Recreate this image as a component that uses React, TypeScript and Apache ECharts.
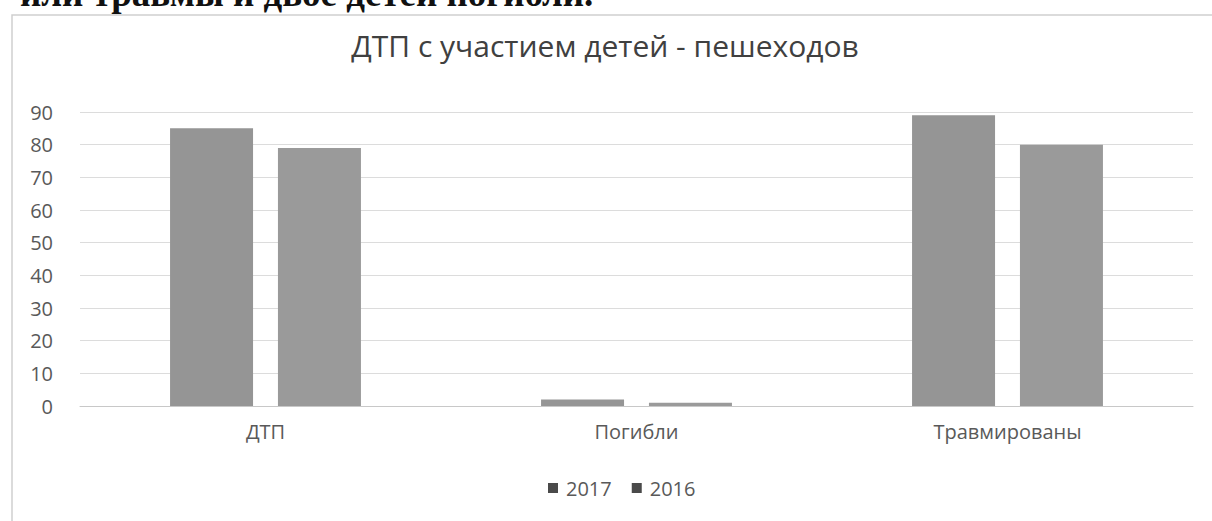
import React, { useEffect, useRef } from "react";
import * as echarts from "echarts";

const categories = ["ДТП", "Погибли", "Травмированы"];
const series2017 = [85, 2, 89];
const series2016 = [79, 1, 80];
const seriesNames = ["2017", "2016"];
const titleText = "ДТП с участием детей - пешеходов";
const headerText = "или травмы и двое детей погибли.";

export default function App() {
  const ref = useRef<HTMLDivElement>(null);
  useEffect(() => {
    if (!ref.current) return;
    const chart = echarts.init(ref.current, null, { renderer: "svg" });
    const labelColor = "#595959";
    chart.setOption({
      animation: false,
      backgroundColor: "#ffffff",
      textStyle: { fontFamily: "Open Sans" },
      title: {
        text: titleText,
        left: 605,
        top: 30,
        padding: 0,
        textAlign: "center",
        textStyle: { fontFamily: "Open Sans", fontSize: 30, fontWeight: "normal", color: "#404040" },
      },
      graphic: [
        {
          type: "rect",
          shape: { x: 12, y: 15, width: 1300, height: 600 },
          style: { fill: "none", stroke: "#cfcfcf", lineWidth: 1.5 },
          silent: true,
        },
        {
          type: "text",
          x: 20,
          y: 12,
          style: {
            text: headerText,
            font: "bold 37px 'Liberation Serif'",
            fill: "#111111",
            textVerticalAlign: "bottom",
          },
        },
      ],
      legend: {
        top: 478,
        left: 548,
        padding: 0,
        itemWidth: 10,
        itemHeight: 10,
        itemGap: 20,
        icon: "rect",
        textStyle: { fontFamily: "Open Sans", fontSize: 20, color: labelColor, padding: [0, 0, 0, 3] },
        data: [
          { name: seriesNames[0], itemStyle: { color: "#4a4a4a" } },
          { name: seriesNames[1], itemStyle: { color: "#4a4a4a" } },
        ],
      },
      grid: { left: 80, right: 19, top: 112, bottom: 115 },
      xAxis: {
        type: "category",
        data: categories,
        axisTick: { show: false },
        axisLine: { lineStyle: { color: "#c8c8c8" } },
        axisLabel: { color: labelColor, fontSize: 20, margin: 15, fontFamily: "Open Sans" },
      },
      yAxis: {
        type: "value",
        min: 0,
        max: 90,
        interval: 10,
        axisLine: { show: false },
        axisTick: { show: false },
        splitLine: { lineStyle: { color: "#dcdcdc" } },
        axisLabel: { color: labelColor, fontSize: 20, margin: 27, fontFamily: "Open Sans" },
      },
      series: [
        {
          name: seriesNames[0],
          type: "bar",
          data: series2017,
          barWidth: 83,
          barGap: "30%",
          itemStyle: { color: "#959595" },
        },
        {
          name: seriesNames[1],
          type: "bar",
          data: series2016,
          barWidth: 83,
          barGap: "30%",
          itemStyle: { color: "#9a9a9a" },
        },
      ],
    });
    return () => chart.dispose();
  }, []);
  return (
    <div
      ref={ref}
      style={{ position: "fixed", left: 0, top: 0, width: 1212, height: 521 }}
    />
  );
}
